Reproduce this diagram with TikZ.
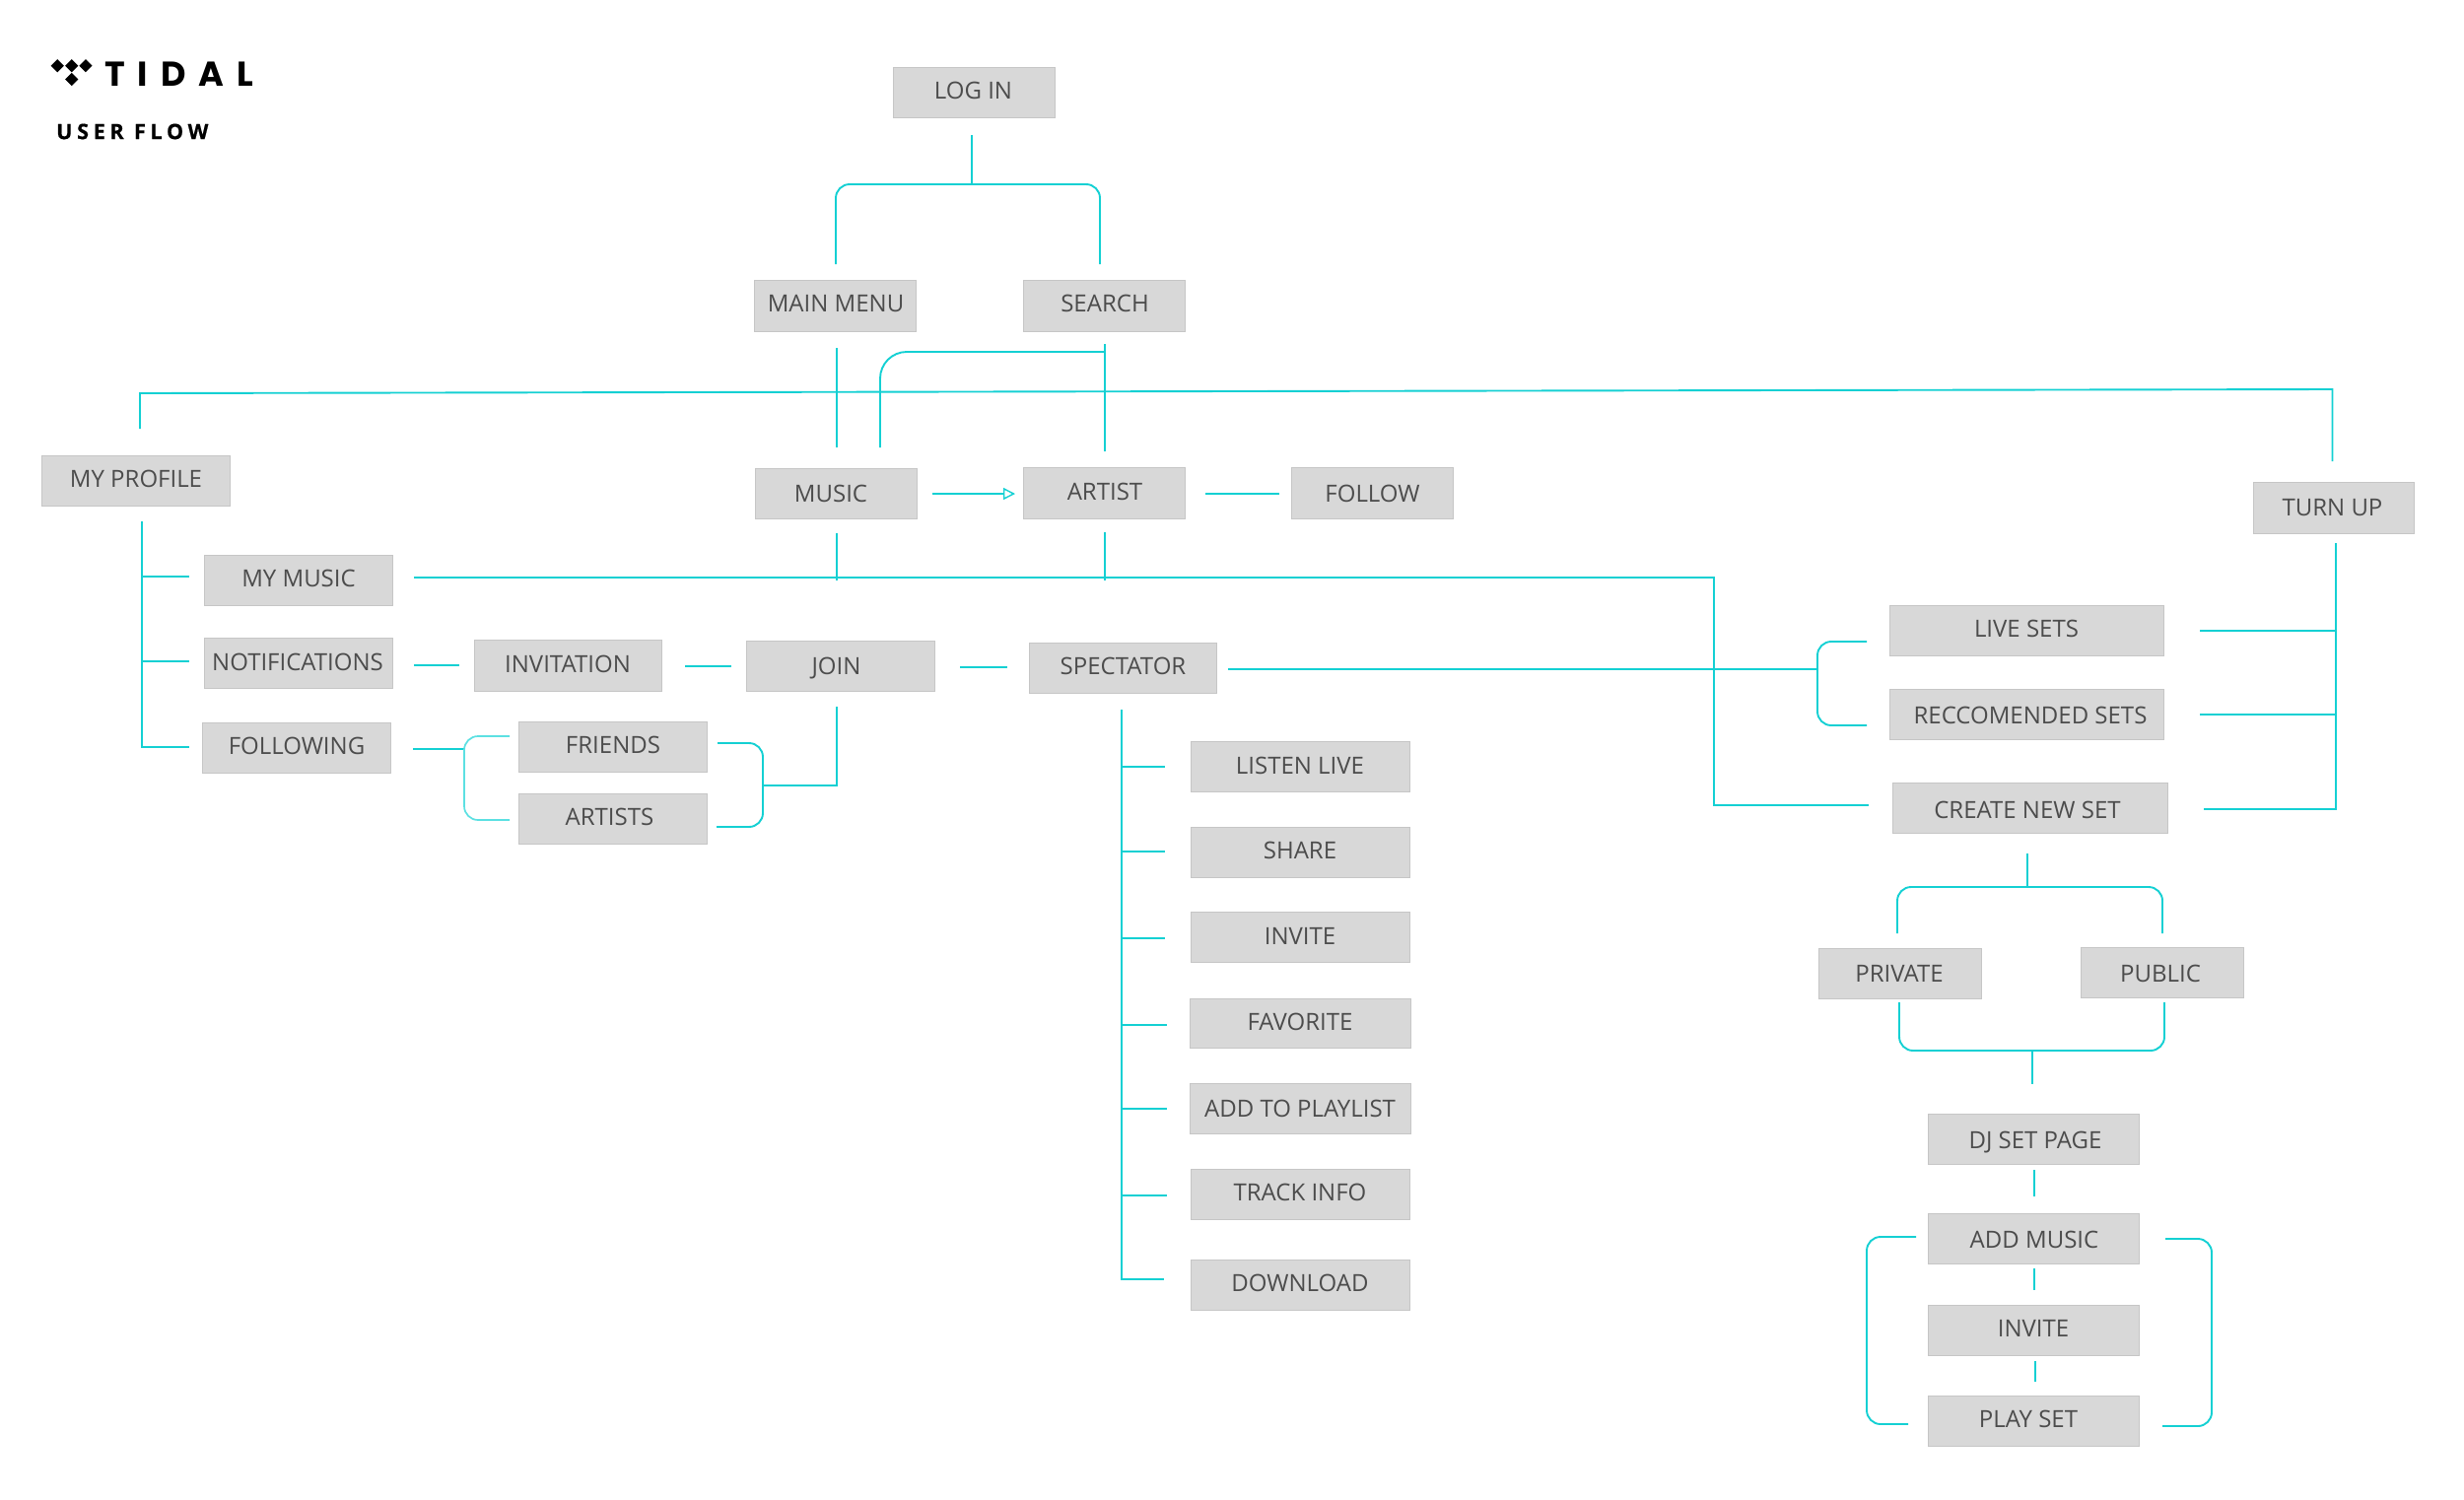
\documentclass[tikz,border=0pt]{standalone}
\usepackage{fontspec}
\setmainfont{Open Sans}
\newfontfamily\logofont[LetterSpace=37]{Poppins}
\newfontfamily\flowfont[LetterSpace=22,BoldFeatures={FakeBold=0.5}]{Open Sans}
\usetikzlibrary{arrows.meta}
\definecolor{flowc}{HTML}{14D0D3}
\definecolor{flowlight}{HTML}{5CE0E2}
\definecolor{boxfill}{HTML}{D8D8D8}
\definecolor{boxline}{HTML}{C6C6C6}
\definecolor{boxtext}{HTML}{4C4C4C}
\tikzset{
  flow/.style={draw=flowc,line width=1.9pt},
  flowthin/.style={draw=flowlight,line width=1.7pt},
  softbend/.style={rounded corners=14pt},
  flowbox/.style={draw=boxline,fill=boxfill,line width=1pt,inner sep=0pt},
  boxlabel/.style={text=boxtext,inner sep=0pt,text height=17pt,text depth=0pt,font=\fontsize{24}{28}\selectfont},
  logomark/.style={fill=black},
}
\newcommand{\bx}[8]{%
  \node[flowbox,minimum width={(#4-#2-1)*1pt},minimum height={(#5-#3-1)*1pt}] (#1) at ({(#2+#4)/2},{(#3+#5)/2}) {};
  \node[boxlabel] (#1-text) at (#6,#7) {#8};
}
\newcommand{\dmd}[2]{\fill[logomark] (#1-6.6,#2) -- (#1,#2-6.6) -- (#1+6.6,#2) -- (#1,#2+6.6) -- cycle;}
\newcommand{\cs}[3]{\coordinate (#1) at (#2,#3);}
\begin{document}
\begin{tikzpicture}[x=1pt,y=-1pt]
\useasboundingbox (0,0) rectangle (2500,1521);
% logo
\dmd{58.3}{66.7}\dmd{72.7}{66.7}\dmd{86.9}{66.7}\dmd{72.7}{80.5}
\node[inner sep=0pt,anchor=west,text height=25pt,text depth=0pt] (logotext) at (106,74.5) {\logofont\fontsize{35}{40}\selectfont\bfseries TIDAL};
\node[inner sep=0pt,anchor=west,text height=15.3pt,text depth=0pt] (flowtitle) at (57,133.5) {\flowfont\fontsize{21.5}{26}\selectfont\bfseries USER FLOW};
% boxes: name, x1,y1,x2,y2, text cx,cy, text
\bx{login}{906}{68}{1071}{120}{987.5}{92}{LOG IN}
\bx{mainmenu}{765}{284}{930}{337}{848}{308}{MAIN MENU}
\bx{search}{1038}{284}{1203}{337}{1121}{308}{SEARCH}
\bx{music}{766}{475}{930.5}{527}{843}{501}{MUSIC}
\bx{artist}{1038}{474}{1203}{527}{1121}{499}{ARTIST}
\bx{follow}{1310}{474}{1475}{527}{1392.5}{500.5}{FOLLOW}
\bx{myprofile}{42}{462}{234}{514}{138}{486}{MY PROFILE}
\bx{mymusic}{207}{563}{399}{615}{303}{587}{MY MUSIC}
\bx{notifications}{207}{647}{399}{699}{302}{672}{NOTIFICATIONS}
\bx{following}{205}{733}{397}{785}{301}{757}{FOLLOWING}
\bx{invitation}{481}{649}{672}{702}{576}{674}{INVITATION}
\bx{join}{757}{650}{949}{702}{848.5}{676}{JOIN}
\bx{friends}{526}{732}{718}{784}{622}{756}{FRIENDS}
\bx{artists}{526}{805}{718}{857}{618.5}{829}{ARTISTS}
\bx{spectator}{1044}{652}{1235}{704}{1139.5}{676}{SPECTATOR}
\bx{listenlive}{1208}{752}{1431}{804}{1319}{777}{LISTEN LIVE}
\bx{share}{1208}{839}{1431}{891}{1319}{863}{SHARE}
\bx{invitea}{1208}{925}{1431}{977}{1319}{950}{INVITE}
\bx{favorite}{1207}{1013}{1432}{1064}{1319}{1037}{FAVORITE}
\bx{addplaylist}{1207}{1099}{1432}{1151}{1319}{1125}{ADD TO PLAYLIST}
\bx{trackinfo}{1208}{1186}{1431}{1238}{1319}{1210}{TRACK INFO}
\bx{download}{1208}{1278}{1431}{1330}{1319}{1302}{DOWNLOAD}
\bx{turnup}{2285.5}{489}{2450}{542}{2366.5}{515}{TURN UP}
\bx{livesets}{1917}{614}{2195.5}{666}{2056}{638}{LIVE SETS}
\bx{recsets}{1917}{699}{2195.5}{751}{2060}{726}{RECCOMENDED SETS}
\bx{createset}{1920}{794}{2200}{846}{2057}{822}{CREATE NEW SET}
\bx{private}{1845}{962}{2011}{1014}{1927}{988}{PRIVATE}
\bx{public}{2111}{961}{2277}{1013}{2192}{988}{PUBLIC}
\bx{djset}{1956}{1130}{2171}{1182}{2065}{1157}{DJ SET PAGE}
\bx{addmusic}{1956}{1231}{2171}{1283}{2064}{1258}{ADD MUSIC}
\bx{inviteb}{1956}{1324}{2171}{1376}{2063}{1348}{INVITE}
\bx{playset}{1956}{1416}{2171}{1468}{2058}{1440}{PLAY SET}
% connector ends
\cs{la}{986}{137}\cs{lb}{986}{187}\cs{lc}{848}{268}\cs{ld}{848}{187}\cs{le}{1116}{187}\cs{lf}{1116}{268}
\cs{ta}{142}{435}\cs{tb}{142}{399}\cs{tc}{2366.5}{395}\cs{td}{2366.5}{468}
\cs{ma}{849}{353}\cs{mb}{849}{454}
\cs{sa}{1121}{349}\cs{sb}{1121}{458}\cs{sc}{1121}{357}\cs{sd}{893}{357}\cs{se}{893}{454}
\cs{aa}{946}{501}\cs{ab}{1030}{501}
\cs{fa}{1223}{501}\cs{fb}{1298}{501}
\cs{na}{420}{586}\cs{nb}{1739}{586}\cs{nc}{1739}{817}\cs{nd}{1895.5}{817}
\cs{oa}{849}{541}\cs{ob}{849}{589}\cs{pa}{1121}{540}\cs{pb}{1121}{589}
\cs{qa}{144}{529}\cs{qb}{144}{758}\cs{qc}{144}{585}\cs{qd}{192}{585}\cs{qe}{144}{671}\cs{qf}{192}{671}\cs{qg}{192}{758}
\cs{ra}{420}{675}\cs{rb}{466}{675}
\cs{rc}{695}{676}\cs{rd}{742}{676}
\cs{re}{974}{677}\cs{rf}{1022}{677}
\cs{ua}{419}{760}\cs{ub}{471}{760}\cs{uc}{517}{747}\cs{ud}{471}{747}\cs{ue}{471}{832}\cs{uf}{517}{832}
\cs{va}{728}{754}\cs{vb}{774}{754}\cs{vc}{774}{839}\cs{vd}{727}{839}\cs{ve}{774}{797}\cs{vf}{849}{797}\cs{vg}{849}{717}
\cs{wa}{1246}{679}\cs{wb}{1844}{679}\cs{wc}{1894}{651}\cs{wd}{1844}{651}\cs{we}{1844}{736}\cs{wf}{1894}{736}
\cs{xa}{1138}{720}\cs{xb}{1138}{1298}\cs{xe}{1181}{1298}
\cs{x1}{1138}{778}\cs{y1}{1182}{778}
\cs{x2}{1138}{864}\cs{y2}{1182}{864}
\cs{x3}{1138}{952}\cs{y3}{1182}{952}
\cs{x4}{1138}{1040}\cs{y4}{1184}{1040}
\cs{x5}{1138}{1125}\cs{y5}{1184}{1125}
\cs{x6}{1138}{1213}\cs{y6}{1184}{1213}
\cs{za}{2370}{551}\cs{zb}{2370}{821}\cs{zc}{2236}{821}
\cs{zd}{2232}{640}\cs{ze}{2370}{640}\cs{zf}{2232}{725}\cs{zg}{2370}{725}
\cs{ca}{2057}{866}\cs{cb}{2057}{900}\cs{cc}{1925}{947}\cs{cd}{1925}{900}\cs{ce}{2194}{900}\cs{cf}{2194}{947}
\cs{da}{1927}{1017}\cs{db}{1927}{1066}\cs{dc}{2196}{1066}\cs{dd}{2196}{1017}\cs{de}{2062}{1066}\cs{df}{2062}{1100}
\cs{ea}{2064}{1187}\cs{eb}{2064}{1214}
\cs{ec}{2064}{1287}\cs{ed}{2064}{1309}
\cs{ee}{2065}{1381}\cs{ef}{2065}{1402}
\cs{ga}{1944}{1255}\cs{gb}{1894}{1255}\cs{gc}{1894}{1445}\cs{gd}{1936}{1445}
\cs{ha}{2197}{1257}\cs{hb}{2244}{1257}\cs{hc}{2244}{1447}\cs{hd}{2194}{1447}
% connectors
\draw[flow] (la) -- (lb);
\draw[flow,softbend] (lc) -- (ld) -- (le) -- (lf);
\draw[flow] (ta) -- (tb) -- (tc) -- (td);
\draw[flow] (ma) -- (mb);
\draw[flow] (sa) -- (sb);
\draw[flow,rounded corners=27pt] (sc) -- (sd) -- (se);
\draw[flow,-{Triangle[open,length=12pt,width=12pt,line width=1.4pt]}] (aa) -- (ab);
\draw[flow] (fa) -- (fb);
\draw[flow] (na) -- (nb) -- (nc) -- (nd);
\draw[flow] (oa) -- (ob);
\draw[flow] (pa) -- (pb);
\draw[flow] (qa) -- (qb) -- (qg);
\draw[flow] (qc) -- (qd);
\draw[flow] (qe) -- (qf);
\draw[flow] (ra) -- (rb);
\draw[flow] (rc) -- (rd);
\draw[flow] (re) -- (rf);
\draw[flow] (ua) -- (ub);
\draw[flowthin,softbend] (uc) -- (ud) -- (ue) -- (uf);
\draw[flow,softbend] (va) -- (vb) -- (vc) -- (vd);
\draw[flow] (ve) -- (vf) -- (vg);
\draw[flow] (wa) -- (wb);
\draw[flow,softbend] (wc) -- (wd) -- (we) -- (wf);
\draw[flow] (xa) -- (xb) -- (xe);
\foreach \i in {1,...,6} {\draw[flow] (x\i) -- (y\i);}
\draw[flow] (za) -- (zb) -- (zc);
\draw[flow] (zd) -- (ze);
\draw[flow] (zf) -- (zg);
\draw[flow] (ca) -- (cb);
\draw[flow,softbend] (cc) -- (cd) -- (ce) -- (cf);
\draw[flow,softbend] (da) -- (db) -- (dc) -- (dd);
\draw[flow] (de) -- (df);
\draw[flow] (ea) -- (eb);
\draw[flow] (ec) -- (ed);
\draw[flow] (ee) -- (ef);
\draw[flow,softbend] (ga) -- (gb) -- (gc) -- (gd);
\draw[flow,softbend] (ha) -- (hb) -- (hc) -- (hd);
\end{tikzpicture}
\end{document}
